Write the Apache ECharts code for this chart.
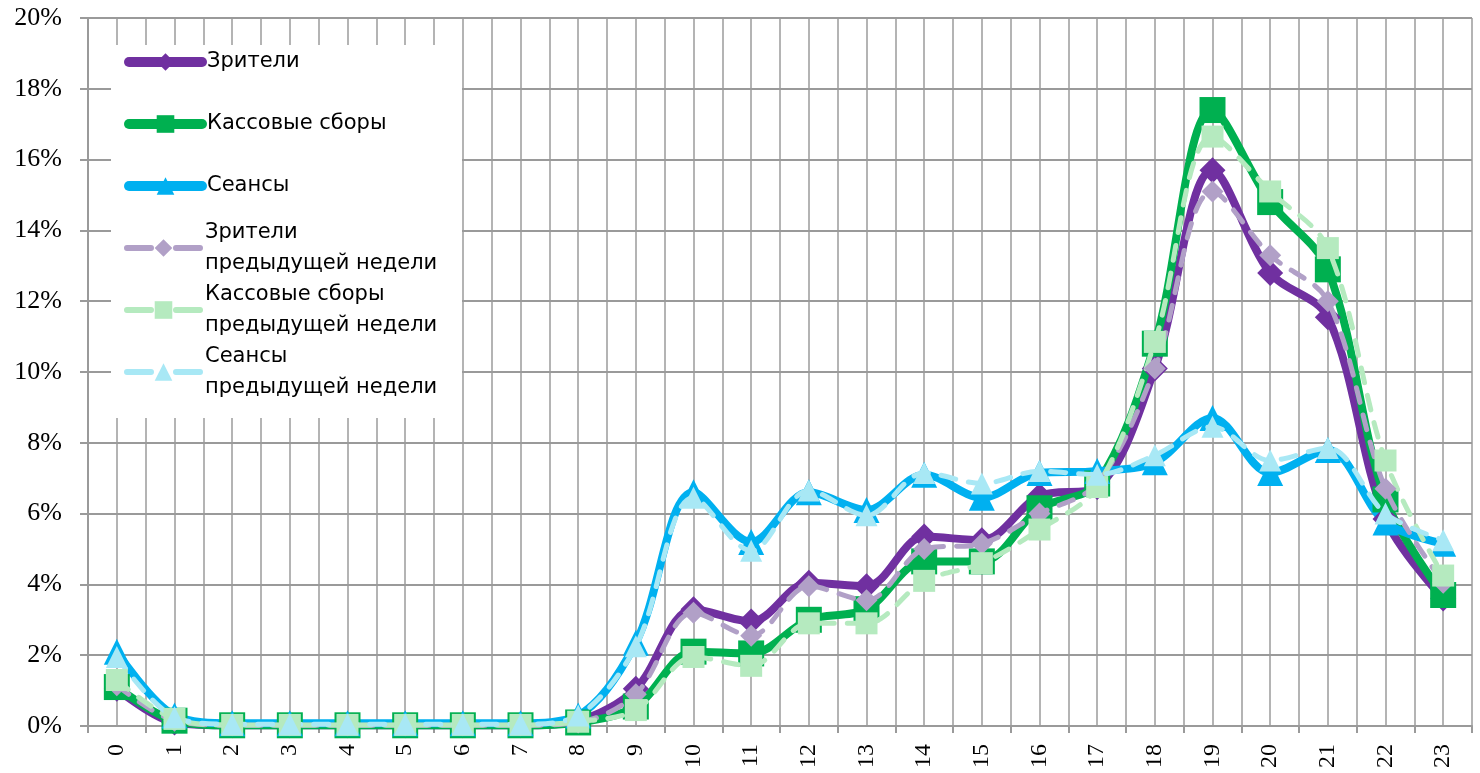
<!DOCTYPE html>
<html><head><meta charset="utf-8">
<script src="https://cdn.jsdelivr.net/npm/echarts@6/dist/echarts.min.js"></script>
<style>
html,body{margin:0;padding:0;background:#fff}
#wrap{position:relative;width:1480px;height:773px}
#g,#c{position:absolute;left:0;top:0;width:1480px;height:773px}
#g{z-index:1}#c{z-index:2}
</style>
</head><body><div id="wrap"><div id="g"></div><div id="c"></div></div>
<script>
const hours = ['0','1','2','3','4','5','6','7','8','9','10','11','12','13','14','15','16','17','18','19','20','21','22','23'];
const yTicks = [0, 2, 4, 6, 8, 10, 12, 14, 16, 18, 20];

const viewers      = [1.05, 0.1, 0.02, 0.02, 0.02, 0.02, 0.02, 0.02, 0.15, 1.05, 3.3, 2.95, 4.05, 3.95, 5.35, 5.25, 6.5, 6.75, 10.1, 15.7, 12.8, 11.55, 5.85, 3.6];
const revenue      = [1.1, 0.15, 0.02, 0.02, 0.02, 0.02, 0.02, 0.02, 0.1, 0.55, 2.1, 2.05, 3.0, 3.3, 4.65, 4.65, 6.15, 6.85, 10.8, 17.4, 14.8, 12.9, 6.4, 3.7];
const sessions     = [2.1, 0.3, 0.08, 0.08, 0.08, 0.08, 0.08, 0.08, 0.3, 2.35, 6.6, 5.2, 6.6, 6.1, 7.1, 6.45, 7.15, 7.2, 7.45, 8.7, 7.15, 7.8, 5.75, 5.15];
const viewersPrev  = [1.15, 0.15, 0.02, 0.02, 0.02, 0.02, 0.02, 0.02, 0.1, 0.9, 3.2, 2.55, 3.95, 3.55, 5.0, 5.15, 6.0, 6.85, 10.1, 15.1, 13.3, 12.0, 6.7, 4.05];
const revenuePrev  = [1.3, 0.2, 0.03, 0.03, 0.03, 0.03, 0.03, 0.03, 0.12, 0.45, 1.95, 1.7, 2.9, 2.9, 4.1, 4.6, 5.55, 6.75, 10.85, 16.65, 15.1, 13.5, 7.5, 4.25];
const sessionsPrev = [1.95, 0.25, 0.05, 0.05, 0.05, 0.05, 0.05, 0.05, 0.3, 2.25, 6.45, 4.95, 6.65, 5.95, 7.15, 6.85, 7.2, 7.1, 7.65, 8.45, 7.5, 7.85, 6.0, 5.25];

const names = ['Зрители', 'Кассовые сборы', 'Сеансы'];
const namesPrev = ['Зрители\nпредыдущей недели', 'Кассовые сборы\nпредыдущей недели', 'Сеансы\nпредыдущей недели'];

const C = {purple:'#7030A0', green:'#00B050', blue:'#00B0F0', lav:'#B1A0C7', lgreen:'#B5EABF', lcyan:'#A8E8F5'};

const serif = 'Liberation Serif';
const sans = 'DejaVu Sans';
const vGrid = '#b4b4b4';
const hGrid = '#9a9a9a';
const gridBox = {left:88, right:8, top:18, bottom:47};

// Background instance: vertical grid lines (category centres and boundaries)
const gridChart = echarts.init(document.getElementById('g'));
gridChart.setOption({
  animation:false,
  backgroundColor:'#ffffff',
  grid:gridBox,
  xAxis:[{
    type:'category', data:hours, boundaryGap:true,
    axisLine:{show:false}, axisTick:{show:false}, axisLabel:{show:false},
    splitLine:{show:true, interval:0, lineStyle:{color:vGrid, width:2}}
  },{
    type:'value', min:-0.5, max:23.5, interval:0.5, position:'top',
    axisLine:{show:false}, axisTick:{show:false}, axisLabel:{show:false},
    splitLine:{show:true, lineStyle:{color:vGrid, width:2}}
  }],
  yAxis:{type:'value', min:0, max:20, interval:2, show:true,
    axisLine:{show:false}, axisTick:{show:false}, axisLabel:{show:false}, splitLine:{show:false}},
  series:[{type:'line', data:[], silent:true}]
});

function mainSeries(name, data, color, symbol, size) {
  return {
    name, type:'line', data, smooth:0.33, symbol, symbolSize:size, showSymbol:true,
    itemStyle:{color}, lineStyle:{color, width:8, cap:'round', join:'round'},
    emphasis:{disabled:true}, z:2
  };
}
function prevSeries(name, data, color, symbol, size) {
  return {
    name, type:'line', data, smooth:0.33, symbol, symbolSize:size, showSymbol:true,
    itemStyle:{color}, lineStyle:{color, width:5, type:[15,13], cap:'round', join:'round'},
    emphasis:{disabled:true}, z:3
  };
}

// Foreground instance: axes, horizontal grid, legend, series
const chart = echarts.init(document.getElementById('c'));
chart.setOption({
  animation:false,
  backgroundColor:'transparent',
  grid:gridBox,
  xAxis:{
    type:'category', data:hours, boundaryGap:true,
    axisLine:{show:true, onZero:false, lineStyle:{color:hGrid, width:2}},
    axisTick:{show:true, length:7, lineStyle:{color:hGrid, width:2}},
    axisLabel:{rotate:90, margin:18, fontFamily:serif, fontSize:24, color:'#000'},
    splitLine:{show:false}
  },
  yAxis:{
    type:'value', min:0, max:20, interval:2,
    axisLine:{show:true, onZero:false, lineStyle:{color:hGrid, width:2}},
    axisTick:{show:true, length:8, lineStyle:{color:hGrid, width:2}},
    axisLabel:{formatter:'{value}%', margin:26, fontFamily:serif, fontSize:26, color:'#000'},
    splitLine:{show:true, lineStyle:{color:hGrid, width:2}}
  },
  graphic:[{type:'rect', z:1, shape:{x:111, y:45, width:351, height:373}, style:{fill:'#ffffff'}, silent:true}],
  legend:[{
    orient:'vertical', left:124, top:46.5, padding:[0,0,0,0], itemWidth:73, itemHeight:22, itemGap:31,
    selectedMode:false, data:names,
    lineStyle:{width:10, cap:'round'},
    textStyle:{fontFamily:sans, fontSize:21, color:'#000', lineHeight:31}
  },{
    orient:'vertical', left:124, top:201.5, padding:[0,0,0,0], itemWidth:73, itemHeight:22, itemGap:-31,
    selectedMode:false, data:namesPrev,
    lineStyle:{width:6, type:[24,25], cap:'round'},
    textStyle:{fontFamily:sans, fontSize:21, color:'#000', lineHeight:31, padding:[31,0,0,0]}
  }],
  series:[
    mainSeries(names[0], viewers, C.purple, 'diamond', 26),
    mainSeries(names[1], revenue, C.green, 'rect', 26),
    mainSeries(names[2], sessions, C.blue, 'triangle', 26),
    prevSeries(namesPrev[0], viewersPrev, C.lav, 'diamond', 22),
    prevSeries(namesPrev[1], revenuePrev, C.lgreen, 'rect', 22),
    prevSeries(namesPrev[2], sessionsPrev, C.lcyan, 'triangle', 22)
  ]
});
</script></body></html>
